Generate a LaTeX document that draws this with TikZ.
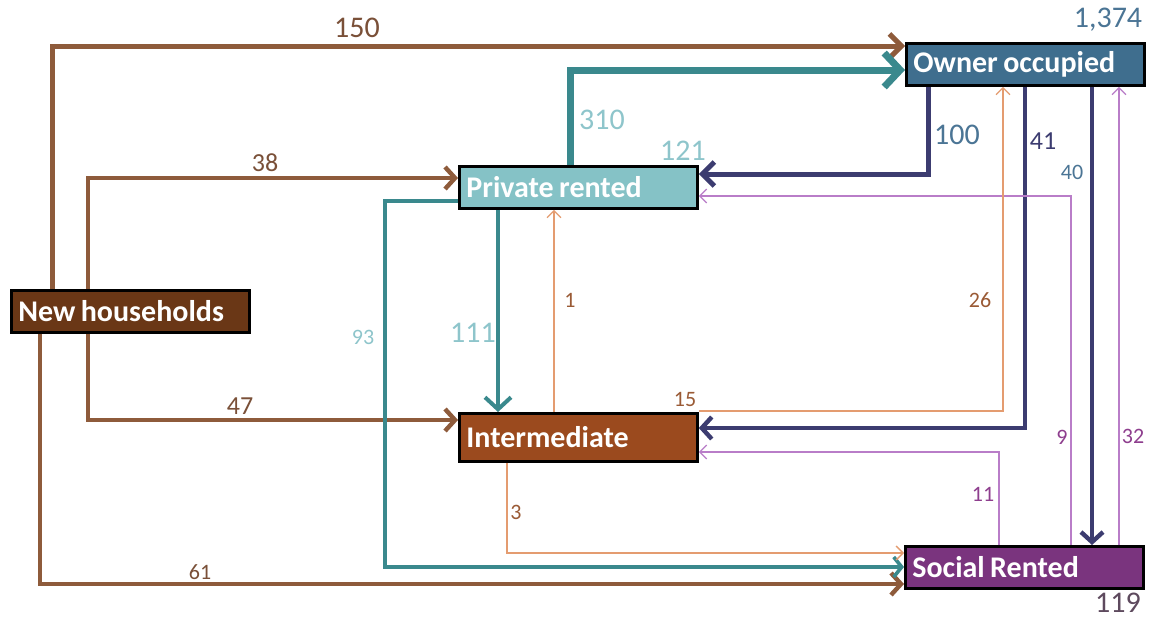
\documentclass[tikz,border=0pt]{standalone}
\usepackage{fontspec}
\setmainfont{Carlito}
\usetikzlibrary{arrows.meta}
\newcommand\tightspace{\spaceskip=0.18em plus 0.1em\relax}
\definecolor{brw}{HTML}{8E5B3B}
\definecolor{tealln}{HTML}{3A898D}
\definecolor{navy}{HTML}{3C3C70}
\definecolor{orng}{HTML}{E49C70}
\definecolor{lilac}{HTML}{B97DC8}
\definecolor{lbrown}{HTML}{7A5038}
\definecolor{sbrown}{HTML}{9A5A35}
\definecolor{lpurp}{HTML}{8E3E8E}
\definecolor{lteal}{HTML}{8EC5CB}
\definecolor{steel}{HTML}{4B7595}
\definecolor{dpurp}{HTML}{5E4A5E}
\definecolor{oofill}{HTML}{3F6E8E}
\definecolor{prfill}{HTML}{85C2C6}
\definecolor{nhfill}{HTML}{6A3716}
\definecolor{imfill}{HTML}{9B4A1E}
\definecolor{srfill}{HTML}{7A347E}
\tikzset{
  box/.style={draw=black, line width=1.4pt, anchor=north west, inner sep=0pt,
    text=white, font=\bfseries\fontsize{15}{15}\selectfont, align=left,
    execute at begin node=\tightspace,
    minimum width=119pt, minimum height=21pt, text width=112pt},
  lbl/.style={inner sep=0pt, font=\fontsize{11}{11}\selectfont},
  mlbl/.style={inner sep=0pt, font=\fontsize{13}{13}\selectfont},
  blbl/.style={inner sep=0pt, font=\fontsize{15}{15}\selectfont},
  thickbrown/.style={draw=brw, line width=2.2pt, -{Straight Barb[length=5pt,width=11pt]}},
  navyln/.style={draw=navy, line width=2.2pt, -{Straight Barb[length=5pt,width=11pt]}},
  thin/.style={line width=0.65pt, -{Straight Barb[length=3.5pt,width=7pt]}},
}
\begin{document}
\begin{tikzpicture}[x=0.5pt,y=-0.5pt]
\useasboundingbox[fill=white] (0,0) rectangle (1152,621);

% boxes
\node[box, fill=oofill] (oo) at (905,42) {Owner occupied};
\node[box, fill=prfill] (pr) at (458,165) {Private rented};
\node[box, fill=nhfill] (nh) at (10,289) {New households};
\node[box, fill=imfill, minimum height=24pt] (im) at (458,412) {Intermediate};
\node[box, fill=srfill] (sr) at (904,545) {Social Rented};

% New households flows
\draw[thickbrown, line width=2.5pt, -{Straight Barb[length=6pt,width=12pt]}] (52,0 |- nh.north) |- (oo.west |- 0,46);
\draw[thickbrown] (88,0 |- nh.north) |- (pr.west |- 0,178);
\draw[thickbrown] (88,0 |- nh.south) |- (im.west |- 0,420);
\draw[thickbrown] (40,0 |- nh.south) |- (sr.west |- 0,584);

% Private rented flows
\draw[draw=tealln, line width=3.5pt, -{Straight Barb[length=8pt,width=17pt]}] (570,0 |- pr.north) |- (oo.west |- 0,70);
\draw[draw=tealln, line width=2pt, -{Straight Barb[length=6pt,width=13pt]}] (498,0 |- pr.south) -- (498,0 |- im.north);
\coordinate (c93) at (385,567);
\draw[draw=tealln, line width=1.8pt, -{Straight Barb[length=4pt,width=10pt]}] (pr.west |- 0,201) -| (c93) -- (sr.west |- c93);

% Owner occupied flows
\draw[navyln, line width=2.5pt, -{Straight Barb[length=6pt,width=12pt]}] (928,0 |- oo.south) |- (pr.east |- 0,174);
\draw[navyln] (1025,0 |- oo.south) |- (im.east |- 0,428);
\draw[navyln] (1092,0 |- oo.south) -- (1092,0 |- sr.north);

% Social rented flows
\draw[thin, draw=lilac] (1119,0 |- sr.north) -- (1119,0 |- oo.south);
\draw[thin, draw=lilac] (1071,0 |- sr.north) |- (pr.east |- 0,196);
\draw[thin, draw=lilac] (999,0 |- sr.north) |- (im.east |- 0,452);

% Intermediate flows
\draw[thin, draw=orng] (im.east |- 0,411) -| (1003,0 |- oo.south);
\draw[thin, draw=orng] (554,0 |- im.north) -- (554,0 |- pr.south);
\draw[thin, draw=orng] (507,0 |- im.south) |- (sr.west |- 0,553);

% labels
\node[blbl, text=lbrown] (l150) at (357,28) {150};
\node[mlbl, text=lbrown] (l38) at (265,163) {38};
\node[mlbl, text=lbrown] (l47) at (240,406) {47};
\node[lbl, text=lbrown] (l61) at (200,572) {61};
\node[blbl, text=lteal] (l310) at (602,120) {310};
\node[blbl, text=lteal] (l121) at (683,151) {121};
\node[blbl, text=steel] (l100) at (957,135) {100};
\node[mlbl, text=navy] (l41) at (1043,141) {41};
\node[lbl, text=steel] (l40) at (1072,172) {40};
\node[blbl, text=steel] (l1374) at (1108,20) {1,374};
\node[blbl, text=lteal] (l111) at (473,333) {111};
\node[lbl, text=lteal] (l93) at (363,337) {93};
\node[lbl, text=sbrown] (l1) at (570,300) {1};
\node[lbl, text=sbrown] (l26) at (980,300) {26};
\node[lbl, text=sbrown] (l15) at (685,399) {15};
\node[lbl, text=lpurp] (l9) at (1062,437) {9};
\node[lbl, text=lpurp] (l32) at (1133,436) {32};
\node[lbl, text=lpurp] (l11) at (983,494) {11};
\node[lbl, text=sbrown] (l3) at (516,512) {3};
\node[blbl, text=dpurp] (l119) at (1118,603) {119};
\end{tikzpicture}
\end{document}
